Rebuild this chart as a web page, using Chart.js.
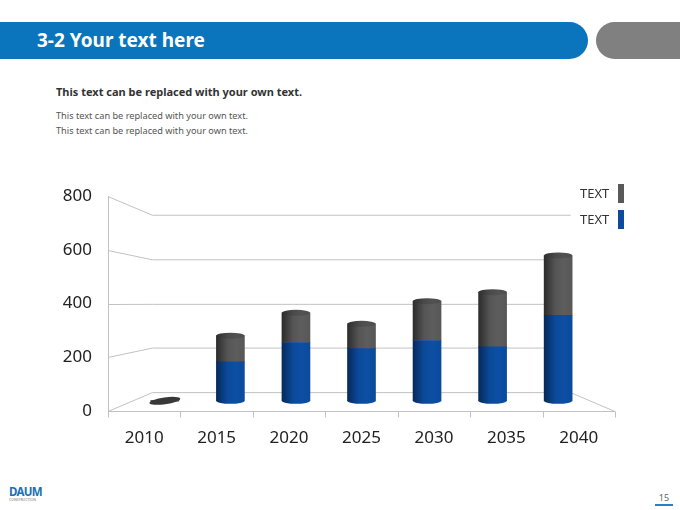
<!DOCTYPE html>
<html lang="en">
<head>
  <meta charset="UTF-8" />
  <title>3-2 Your text here</title>
  <script src="https://cdn.jsdelivr.net/npm/chart.js"></script>
  <style>
    * {
      box-sizing: border-box;
    }

    body {
      margin: 0;
      width: 680px;
      height: 510px;
      position: relative;
      overflow: hidden;
      background: #fff;
      font-family: 'Noto Sans', 'Open Sans', sans-serif;
      color: #333;
    }

    .title-bar {
      position: absolute;
      left: 0;
      top: 22px;
      width: 588px;
      height: 37px;
      background: #0a75bd;
      border-radius: 0 19px 19px 0;
      color: #fff;
      font-weight: bold;
      font-size: 19px;
      line-height: 37px;
      padding-left: 37px;
    }

    .title-pill {
      position: absolute;
      left: 596px;
      top: 22px;
      width: 110px;
      height: 37px;
      background: #808080;
      border-radius: 19px;
    }

    .lead {
      position: absolute;
      left: 56px;
      top: 84px;
      font-size: 11px;
      font-weight: bold;
      color: #333;
    }

    .note {
      position: absolute;
      left: 56px;
      font-size: 9.2px;
      color: #555;
    }

    .chart-box {
      position: absolute;
      left: 0;
      top: 170px;
      width: 680px;
      height: 290px;
    }

    .legend {
      position: absolute;
      left: 580px;
      top: 180px;
      font-size: 13px;
      color: #333;
    }

    .legend div {
      display: flex;
      align-items: center;
      height: 26px;
    }

    .legend span.box {
      display: inline-block;
      width: 6px;
      height: 19px;
      margin-left: 9px;
    }

    .logo {
      position: absolute;
      left: 9px;
      top: 485px;
      color: #1a6fb5;
      font-weight: bold;
      font-size: 11.5px;
      line-height: 13px;
      letter-spacing: -0.7px;
    }

    .logo small {
      display: block;
      font-size: 3.5px;
      line-height: 4px;
      color: #777;
      font-weight: normal;
      letter-spacing: 0;
    }

    .page-no {
      position: absolute;
      left: 655px;
      top: 492px;
      width: 18px;
      text-align: center;
      font-size: 9px;
      color: #666;
      border-bottom: 2px solid #2a7fc0;
      line-height: 12px;
    }
  </style>
</head>
<body>
  <div class="title-bar">3-2 Your text here</div>
  <div class="title-pill"></div>

  <div class="lead">This text can be replaced with your own text.</div>
  <div class="note" style="top:109px">This text can be replaced with your own text.</div>
  <div class="note" style="top:124px">This text can be replaced with your own text.</div>

  <div class="chart-box">
    <canvas id="growthChart"></canvas>
  </div>
  <div class="legend" id="legend"></div>

  <div class="logo">DAUM<small>CONSTRUCTION</small></div>
  <div class="page-no">15</div>

  <script>
    const years = ['2010', '2015', '2020', '2025', '2030', '2035', '2040'];
    const blueValues = [0, 160, 240, 215, 248, 222, 352];
    const greyValues = [0, 108, 122, 102, 162, 225, 246];
    const yTicks = [0, 200, 400, 600, 800];
    const seriesNames = ['TEXT', 'TEXT'];

    // fake perspective: bars sit at mid depth, back wall further in
    const BAR_DEPTH = 0.905;
    const WALL_DEPTH = 0.825;
    const Y_MAX = 800;

    const blueSolid = '#0b4a9e';
    const greySolid = '#595959';

    const blueStops = ['#062a5c', '#0b4a9a', '#0d4fa4', '#0b4a9c'];
    const greyStops = ['#2c2c2c', '#555555', '#5d5d5d', '#575757'];
    const capStops = ['#2e2e2e', '#4a4a4a', '#525252', '#4c4c4c'];

    function fillFor(ctx2d, px, half, stops) {
      const g = ctx2d.createLinearGradient(px - half, 0, px + half, 0);
      g.addColorStop(0, stops[0]);
      g.addColorStop(0.4, stops[1]);
      g.addColorStop(0.7, stops[2]);
      g.addColorStop(1, stops[3]);
      return g;
    }

    function cylinderFill(stops) {
      return function (ctx) {
        const chart = ctx.chart;
        if (!chart.chartArea || ctx.dataIndex === undefined) return stops[1];
        const px = chart.scales.xb.getPixelForValue(ctx.dataIndex);
        return fillFor(chart.ctx, px, 14, stops);
      };
    }

    const perspectiveGrid = {
      id: 'perspectiveGrid',
      beforeDatasetsDraw(chart) {
        const { ctx, chartArea } = chart;
        const { left, right, top, bottom } = chartArea;
        const y = chart.scales.y;
        const x = chart.scales.x;
        const cx = (left + right) / 2;
        const cy = (top + bottom) / 2;
        const proj = (px, py, f) => [cx + f * (px - cx), cy + f * (py - cy)];

        ctx.save();
        ctx.strokeStyle = '#c2c2c2';
        ctx.lineWidth = 1;
        ctx.beginPath();
        yTicks.forEach(v => {
          const py = Math.round(y.getPixelForValue(v)) + 0.5;
          const a = proj(left, py, WALL_DEPTH);
          const b = proj(right, py, WALL_DEPTH);
          ctx.moveTo(left, py);
          ctx.lineTo(a[0], a[1]);
          ctx.lineTo(b[0], b[1]);
        });
        const py0 = Math.round(y.getPixelForValue(0)) + 0.5;
        const backRight = proj(right, py0, WALL_DEPTH);
        ctx.moveTo(left, py0);
        ctx.lineTo(right, py0);
        ctx.lineTo(backRight[0], backRight[1]);
        ctx.moveTo(left + 0.5, y.getPixelForValue(Y_MAX));
        ctx.lineTo(left + 0.5, py0);
        // category separators under the floor edge
        for (let i = 0; i <= years.length; i++) {
          let px;
          if (i === 0) px = left;
          else if (i === years.length) px = right;
          else px = (x.getPixelForValue(i - 1) + x.getPixelForValue(i)) / 2;
          px = Math.round(px) + 0.5;
          ctx.moveTo(px, py0);
          ctx.lineTo(px, py0 + 6);
        }
        ctx.stroke();
        ctx.restore();
      }
    };

    const cylinderCaps = {
      id: 'cylinderCaps',
      afterDatasetsDraw(chart) {
        const { ctx } = chart;
        const blueMeta = chart.getDatasetMeta(0).data;
        const greyMeta = chart.getDatasetMeta(1).data;
        ctx.save();
        years.forEach((yr, i) => {
          const lower = blueMeta[i];
          const upper = greyMeta[i];
          const px = lower.x;
          const rx = lower.width / 2;
          const ry = 3;
          if (blueValues[i] + greyValues[i] === 0) {
            // empty year: only the flat disc is left
            ctx.fillStyle = '#383838';
            ctx.beginPath();
            ctx.ellipse(px, lower.base, rx + 1.5, ry + 0.4, -0.14, 0, Math.PI * 2);
            ctx.fill();
            return;
          }
          // rounded bottom
          ctx.fillStyle = fillFor(ctx, px, rx, blueValues[i] > 0 ? blueStops : greyStops);
          ctx.beginPath();
          ctx.ellipse(px, lower.base, rx, ry, 0, 0, Math.PI);
          ctx.fill();
          // top face
          const topEl = greyValues[i] > 0 ? upper : lower;
          ctx.fillStyle = fillFor(ctx, px, rx, greyValues[i] > 0 ? capStops : blueStops);
          ctx.beginPath();
          ctx.ellipse(px, topEl.y, rx, ry, 0, 0, Math.PI * 2);
          ctx.fill();
        });
        ctx.restore();
      }
    };

    const chart = new Chart(document.getElementById('growthChart'), {
      type: 'bar',
      data: {
        labels: years,
        datasets: [
          {
            label: seriesNames[1],
            data: years.map((yr, i) => ({ x: i, y: blueValues[i] })),
            backgroundColor: cylinderFill(blueStops),
            borderWidth: 0,
            barThickness: 28,
            xAxisID: 'xb',
            yAxisID: 'yb'
          },
          {
            label: seriesNames[0],
            data: years.map((yr, i) => ({ x: i, y: greyValues[i] })),
            backgroundColor: cylinderFill(greyStops),
            borderWidth: 0,
            barThickness: 28,
            xAxisID: 'xb',
            yAxisID: 'yb'
          }
        ]
      },
      options: {
        responsive: true,
        maintainAspectRatio: false,
        animation: false,
        layout: {
          padding: { left: 0, right: 65, top: 24, bottom: 0 }
        },
        plugins: {
          legend: { display: false },
          tooltip: { enabled: false }
        },
        scales: {
          x: {
            type: 'category',
            offset: true,
            grid: { display: false, drawTicks: false },
            border: { display: false },
            ticks: {
              color: '#222',
              padding: 17,
              font: { family: "'Noto Sans', sans-serif", size: 17 }
            },
            afterFit(scale) { scale.height = 49; }
          },
          y: {
            type: 'linear',
            min: 0,
            max: Y_MAX,
            grid: { display: false, drawTicks: false },
            border: { display: false },
            afterBuildTicks(scale) {
              scale.ticks = yTicks.map(v => ({ value: v }));
            },
            ticks: {
              color: '#222',
              padding: 16,
              font: { family: "'Noto Sans', sans-serif", size: 17 }
            },
            afterFit(scale) { scale.width = 108; }
          },
          xb: {
            type: 'linear',
            display: false,
            stacked: true,
            offset: false,
            bounds: 'data',
            min: (years.length - 1) / 2 - years.length / 2 / BAR_DEPTH,
            max: (years.length - 1) / 2 + years.length / 2 / BAR_DEPTH
          },
          yb: {
            type: 'linear',
            display: false,
            stacked: true,
            bounds: 'data',
            min: -(1 - BAR_DEPTH) * (Y_MAX / 2) / BAR_DEPTH,
            max: -(1 - BAR_DEPTH) * (Y_MAX / 2) / BAR_DEPTH + Y_MAX / BAR_DEPTH
          }
        }
      },
      plugins: [perspectiveGrid, cylinderCaps]
    });

    // legend: grey series on top, text left of a tall swatch
    const legendEl = document.getElementById('legend');
    [[seriesNames[0], greySolid], [seriesNames[1], blueSolid]].forEach(([name, color]) => {
      const row = document.createElement('div');
      row.innerHTML = '<span>' + name + '</span><span class="box" style="background:' + color + '"></span>';
      legendEl.appendChild(row);
    });
  </script>
</body>
</html>
